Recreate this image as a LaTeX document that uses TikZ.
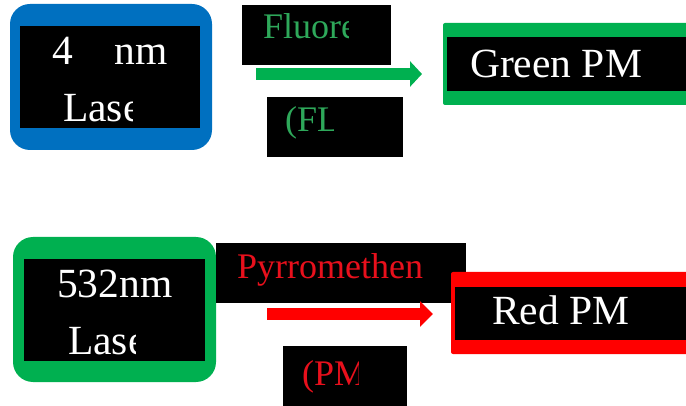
\documentclass[tikz,border=0pt]{standalone}
\usepackage{fontspec}
\setmainfont{Liberation Serif}
\newfontfamily\tnr{Liberation Serif}
\usetikzlibrary{arrows.meta}
\definecolor{myblue}{HTML}{0070C0}
\definecolor{mygreen}{HTML}{00B050}
\definecolor{myred}{HTML}{FF0000}
\definecolor{txtgreen}{HTML}{2EA85A}
\definecolor{txtred}{HTML}{E8101C}
\begin{document}
\begin{tikzpicture}[x=1pt,y=-1pt,
  bigtext/.style={anchor=base west,inner sep=0pt,text=white,font=\tnr\fontsize{41.5}{41.5}\selectfont},
  dyetext/.style={anchor=base west,inner sep=0pt,font=\tnr\fontsize{36}{36}\selectfont},
  blk/.style={fill=black,draw=none},
]
\useasboundingbox (0,0) rectangle (686,406);
% ---------- top row ----------
\path[fill=myblue,rounded corners=20pt] (10,4) rectangle (212,150);
\path[blk] (20,26) rectangle (200,128);
\node[bigtext] (las1a) at (52,65) {4\phantom{05}nm};
\begin{scope}
  \clip (20,80) rectangle (132,128);
  \node[bigtext] (las1b) at (63,122) {Lase};
\end{scope}
\path[blk] (242,5) rectangle (391,65);
\begin{scope}
  \clip (242,5) rectangle (348,65);
  \node[dyetext,text=txtgreen] (dye1) at (263,39) {Fluore};
\end{scope}
\path[blk] (267,97) rectangle (403,157);
\begin{scope}
  \clip (267,97) rectangle (333,157);
  \node[dyetext,text=txtgreen] (dye1b) at (285,132) {(FL};
\end{scope}
\coordinate (g1) at (256,74);
\coordinate (g2) at (422,74);
\draw[mygreen,line width=12.5pt,-{Triangle[length=12pt,width=25pt]}] (g1) -- (g2);
\path[fill=mygreen,rounded corners=2pt] (443,23) rectangle (700,105);
\path[blk] (447,37) rectangle (700,91);
\node[bigtext] (pm1) at (470,78) {Green PM};
% ---------- bottom row ----------
\path[fill=mygreen,rounded corners=20pt] (13,237) rectangle (216,382);
\path[blk] (24,259) rectangle (205,361);
\node[bigtext] (las2a) at (57,298) {532nm};
\begin{scope}
  \clip (24,310) rectangle (135,361);
  \node[bigtext] (las2b) at (68,355) {Lase};
\end{scope}
\path[blk] (216,243) rectangle (466,303);
\begin{scope}
  \clip (216,243) rectangle (422,303);
  \node[dyetext,text=txtred] (dye2) at (237,279) {Pyrromethen};
\end{scope}
\path[blk] (283,346) rectangle (407,410);
\begin{scope}
  \clip (283,346) rectangle (358,410);
  \node[dyetext,text=txtred] (dye2b) at (302,385) {(PM};
\end{scope}
\coordinate (r1) at (267,314);
\coordinate (r2) at (433,314);
\draw[myred,line width=12pt,-{Triangle[length=13pt,width=25pt]}] (r1) -- (r2);
\path[fill=myred,rounded corners=2pt] (451,272) rectangle (700,354);
\path[blk] (455,287) rectangle (700,340);
\node[bigtext] (pm2) at (492,325) {Red PM};
\end{tikzpicture}
\end{document}
